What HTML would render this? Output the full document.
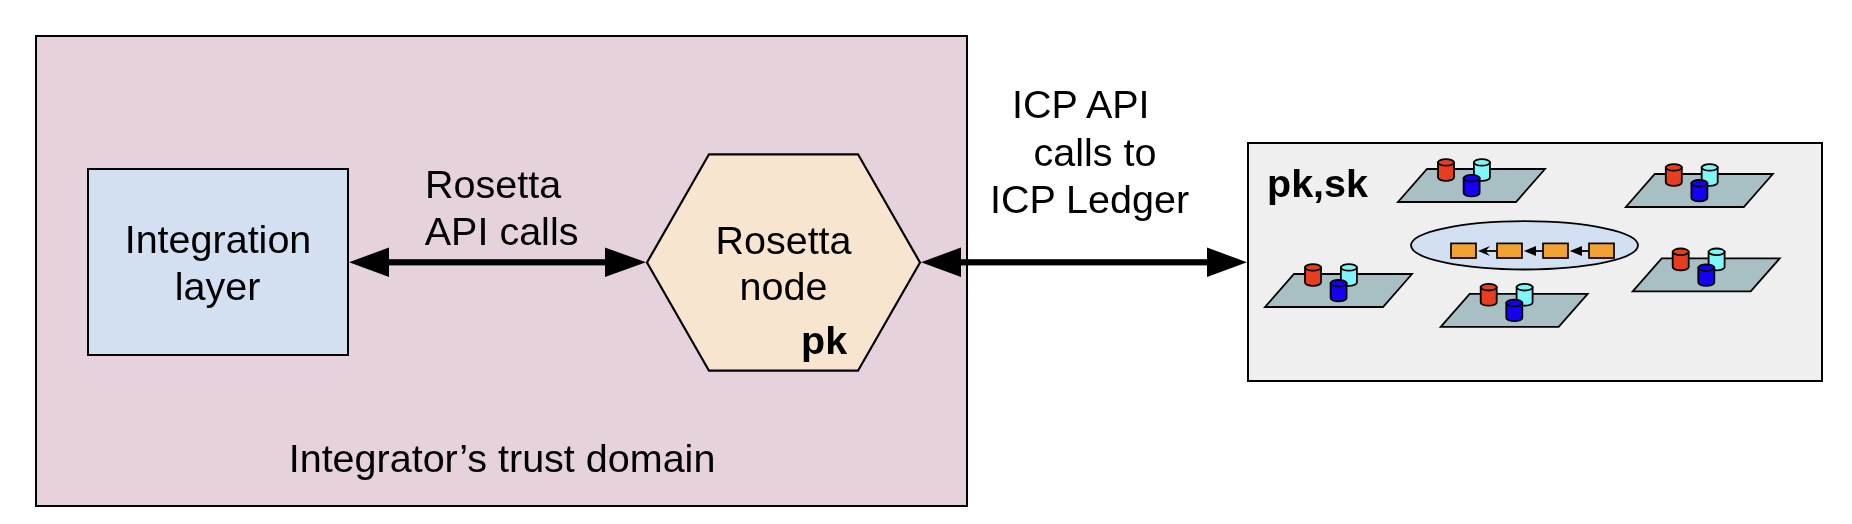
<!DOCTYPE html>
<html>
<head>
<meta charset="utf-8">
<style>
html,body{margin:0;padding:0;background:#ffffff;}
body{width:1852px;height:524px;overflow:hidden;position:relative;}
svg{position:absolute;left:0;top:0;will-change:transform;}
text{font-family:"Liberation Sans", sans-serif;fill:#000;}
</style>
</head>
<body>
<svg width="1852" height="524" viewBox="0 0 1852 524">
  <!-- Integrator trust domain -->
  <rect x="36" y="36" width="931" height="470" fill="#e5d2dc" stroke="#000" stroke-width="2"/>
  <!-- Integration layer -->
  <rect x="88" y="169" width="260" height="186" fill="#d3e0f1" stroke="#000" stroke-width="2"/>
  <!-- Rosetta node hexagon -->
  <polygon points="647,262.5 709,154.3 858,154.3 920,262.5 858,370.7 709,370.7" fill="#f7e5d0" stroke="#000" stroke-width="2.2"/>
  <!-- Ledger box -->
  <rect x="1248" y="143" width="574" height="238" fill="#efefef" stroke="#000" stroke-width="2"/>

  <!-- arrows -->
  <rect x="385" y="259.2" width="224" height="6.2" fill="#000"/>
  <polygon points="349,262.3 389,247.5 389,277.1" fill="#000"/>
  <polygon points="646,262.3 605,247.5 605,277.1" fill="#000"/>
  <rect x="957" y="259.2" width="254" height="6.2" fill="#000"/>
  <polygon points="921,262.3 961,247.5 961,277.1" fill="#000"/>
  <polygon points="1247,262.3 1207,247.5 1207,277.1" fill="#000"/>

  <!-- texts -->
  <text font-size="39.5" x="218" y="252.6" text-anchor="middle">Integration</text>
  <text font-size="39.5" x="217.5" y="300" text-anchor="middle">layer</text>
  <text font-size="39.5" x="425" y="197.6">Rosetta</text>
  <text font-size="39.5" x="424.75" y="244.5">API calls</text>
  <text font-size="39.5" x="783.5" y="253.6" text-anchor="middle">Rosetta</text>
  <text font-size="39.5" x="783.5" y="300.3" text-anchor="middle">node</text>
  <text font-size="39.5" x="801" y="354.3" font-weight="bold">pk</text>
  <text font-size="39.5" x="1012" y="117.8">ICP API</text>
  <text font-size="39.5" x="1033.5" y="166">calls to</text>
  <text font-size="39.5" x="990" y="213">ICP Ledger</text>
  <text font-size="39.5" x="1267" y="197.1" font-weight="bold">pk,sk</text>
  <text font-size="39.5" x="288.7" y="471.6">Integrator’s trust domain</text>

  <!-- ledger nodes -->
  <g>
    <polygon points="1427,169 1545,169 1516,202 1398,202" fill="#a8c0c4" stroke="#000" stroke-width="1.8" stroke-linejoin="miter"/>
    <g stroke="#000" stroke-width="1.8">
      <path d="M1438,162.4 V177.6 A8,3.3 0 0 0 1454,177.6 V162.4 Z" fill="#e83e20"/>
      <ellipse cx="1446" cy="162.4" rx="8" ry="3.3" fill="#e83e20"/>
      <path d="M1473.9,162.4 V177.6 A8,3.3 0 0 0 1489.9,177.6 V162.4 Z" fill="#80f6f8"/>
      <ellipse cx="1481.9" cy="162.4" rx="8" ry="3.3" fill="#80f6f8"/>
      <path d="M1463.6,178.2 V193.1 A8,3.3 0 0 0 1479.6,193.1 V178.2 Z" fill="#1500f5"/>
      <ellipse cx="1471.6" cy="178.2" rx="8" ry="3.3" fill="#1500f5"/>
    </g>
  </g>
  <g transform="translate(227.8,5)">
    <polygon points="1427,169 1545,169 1516,202 1398,202" fill="#a8c0c4" stroke="#000" stroke-width="1.8" stroke-linejoin="miter"/>
    <g stroke="#000" stroke-width="1.8">
      <path d="M1438,162.4 V177.6 A8,3.3 0 0 0 1454,177.6 V162.4 Z" fill="#e83e20"/>
      <ellipse cx="1446" cy="162.4" rx="8" ry="3.3" fill="#e83e20"/>
      <path d="M1473.9,162.4 V177.6 A8,3.3 0 0 0 1489.9,177.6 V162.4 Z" fill="#80f6f8"/>
      <ellipse cx="1481.9" cy="162.4" rx="8" ry="3.3" fill="#80f6f8"/>
      <path d="M1463.6,178.2 V193.1 A8,3.3 0 0 0 1479.6,193.1 V178.2 Z" fill="#1500f5"/>
      <ellipse cx="1471.6" cy="178.2" rx="8" ry="3.3" fill="#1500f5"/>
    </g>
  </g>
  <g transform="translate(-133,105)">
    <polygon points="1427,169 1545,169 1516,202 1398,202" fill="#a8c0c4" stroke="#000" stroke-width="1.8" stroke-linejoin="miter"/>
    <g stroke="#000" stroke-width="1.8">
      <path d="M1438,162.4 V177.6 A8,3.3 0 0 0 1454,177.6 V162.4 Z" fill="#e83e20"/>
      <ellipse cx="1446" cy="162.4" rx="8" ry="3.3" fill="#e83e20"/>
      <path d="M1473.9,162.4 V177.6 A8,3.3 0 0 0 1489.9,177.6 V162.4 Z" fill="#80f6f8"/>
      <ellipse cx="1481.9" cy="162.4" rx="8" ry="3.3" fill="#80f6f8"/>
      <path d="M1463.6,178.2 V193.1 A8,3.3 0 0 0 1479.6,193.1 V178.2 Z" fill="#1500f5"/>
      <ellipse cx="1471.6" cy="178.2" rx="8" ry="3.3" fill="#1500f5"/>
    </g>
  </g>
  <g transform="translate(42.7,124.8)">
    <polygon points="1427,169 1545,169 1516,202 1398,202" fill="#a8c0c4" stroke="#000" stroke-width="1.8" stroke-linejoin="miter"/>
    <g stroke="#000" stroke-width="1.8">
      <path d="M1438,162.4 V177.6 A8,3.3 0 0 0 1454,177.6 V162.4 Z" fill="#e83e20"/>
      <ellipse cx="1446" cy="162.4" rx="8" ry="3.3" fill="#e83e20"/>
      <path d="M1473.9,162.4 V177.6 A8,3.3 0 0 0 1489.9,177.6 V162.4 Z" fill="#80f6f8"/>
      <ellipse cx="1481.9" cy="162.4" rx="8" ry="3.3" fill="#80f6f8"/>
      <path d="M1463.6,178.2 V193.1 A8,3.3 0 0 0 1479.6,193.1 V178.2 Z" fill="#1500f5"/>
      <ellipse cx="1471.6" cy="178.2" rx="8" ry="3.3" fill="#1500f5"/>
    </g>
  </g>
  <g transform="translate(234.7,89.4)">
    <polygon points="1427,169 1545,169 1516,202 1398,202" fill="#a8c0c4" stroke="#000" stroke-width="1.8" stroke-linejoin="miter"/>
    <g stroke="#000" stroke-width="1.8">
      <path d="M1438,162.4 V177.6 A8,3.3 0 0 0 1454,177.6 V162.4 Z" fill="#e83e20"/>
      <ellipse cx="1446" cy="162.4" rx="8" ry="3.3" fill="#e83e20"/>
      <path d="M1473.9,162.4 V177.6 A8,3.3 0 0 0 1489.9,177.6 V162.4 Z" fill="#80f6f8"/>
      <ellipse cx="1481.9" cy="162.4" rx="8" ry="3.3" fill="#80f6f8"/>
      <path d="M1463.6,178.2 V193.1 A8,3.3 0 0 0 1479.6,193.1 V178.2 Z" fill="#1500f5"/>
      <ellipse cx="1471.6" cy="178.2" rx="8" ry="3.3" fill="#1500f5"/>
    </g>
  </g>

  <!-- blockchain ellipse -->
  <ellipse cx="1524.5" cy="245.35" rx="113.5" ry="24.15" fill="#d3e0f1" stroke="#000" stroke-width="1.8"/>
  <g stroke="#000" stroke-width="1.7" fill="#f1a233">
    <rect x="1451" y="243.4" width="25" height="14.6"/>
    <rect x="1497" y="243.4" width="25" height="14.6"/>
    <rect x="1543" y="243.4" width="25" height="14.6"/>
    <rect x="1589" y="243.4" width="25" height="14.6"/>
  </g>
  <g stroke="#000" stroke-width="1.8" fill="#000">
    <line x1="1482" y1="251" x2="1496.5" y2="251"/>
    <line x1="1530" y1="251" x2="1542.5" y2="251"/>
    <line x1="1576" y1="251" x2="1588.5" y2="251"/>
  </g>
  <path d="M1478,251 L1490,246 L1485.5,251 L1490,256 Z" fill="#000"/>
  <polygon points="1523.8,251 1536,246 1536,256" fill="#000"/>
  <polygon points="1569.8,251 1582,246 1582,256" fill="#000"/>
</svg>
</body>
</html>
